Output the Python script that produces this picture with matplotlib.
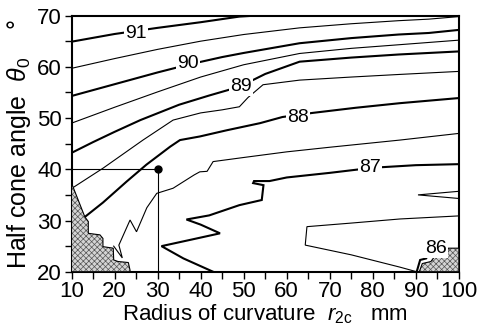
import numpy as np
import matplotlib.pyplot as plt
from matplotlib.patches import Polygon
from matplotlib.ticker import MultipleLocator

plt.rcParams['font.family'] = ['Liberation Sans', 'DejaVu Sans']
plt.rcParams['mathtext.fontset'] = 'custom'
plt.rcParams['mathtext.rm'] = 'Liberation Sans'
plt.rcParams['mathtext.it'] = 'Liberation Sans:italic'
plt.rcParams['hatch.linewidth'] = 0.5

# contour lines: radius r2c (mm) vs half cone angle (deg)
c91_x = [10, 20, 30, 40, 49, 53, 60]
c91_y = [64.9, 66.4, 67.6, 68.7, 69.8, 70.0, 70.0]

c905_x = [10, 20, 30, 40, 50, 63, 75, 86, 93, 100]
c905_y = [59.7, 61.6, 63.4, 65.0, 66.3, 67.6, 68.4, 69.0, 69.3, 69.8]

c90_x = [10, 20, 30, 37, 45, 50, 63, 75, 86, 93, 100]
c90_y = [54.3, 56.6, 58.9, 60.4, 61.9, 62.7, 64.6, 65.6, 66.3, 66.6, 67.2]

c895_x = [10, 20, 30, 40, 50, 63, 75, 86, 100]
c895_y = [49.0, 52.1, 55.1, 58.0, 60.4, 62.6, 63.6, 64.3, 65.2]

c89_x = [10, 15, 20, 26, 35, 42, 49, 55, 63, 75, 86, 100]
c89_y = [43.2, 45.3, 47.3, 49.6, 52.6, 54.4, 56.1, 58.6, 61.0, 61.8, 62.4, 63.0]

c885_x = [10.3, 17.3, 26.6, 33.6, 40, 45, 49, 51, 54.5, 63, 75, 86, 100]
c885_y = [36.4, 40.2, 45.7, 49.6, 51.0, 51.6, 52.2, 54.0, 56.5, 57.4, 58.0, 58.5, 59.1]

c88_x = [13.1, 17.3, 22.8, 27.4, 32.9, 35.2, 39.8, 46, 53.8, 59, 66, 76, 86.3, 100]
c88_y = [30.7, 33.5, 37.6, 40.9, 44.4, 45.7, 46.4, 47.6, 49.0, 50.2, 51.0, 52.0, 52.9, 53.9]

c875_x = [19.8, 21.8, 21.0, 23.6, 25.1, 27.5, 29.8, 33.6, 38.5, 39.8, 41.5, 42.9, 50, 60, 70, 86.3, 100]
c875_y = [25.0, 22.7, 25.2, 30.1, 27.8, 32.5, 35.3, 36.3, 38.9, 39.5, 39.6, 41.5, 42.3, 43.4, 44.3, 45.7, 47.0]

c87_x = [42.9, 36, 30.9, 38, 44.5, 40, 36.7, 42, 49, 54.2, 54.6, 52.2, 52.4, 56, 60, 70, 80, 90, 100]
c87_y = [20.0, 22.6, 25.0, 26.3, 27.5, 29.2, 30.2, 31.0, 33.0, 34.0, 36.9, 37.3, 37.7, 37.7, 38.4, 39.3, 40.3, 40.8, 41.0]

c865_x = [100, 86.3, 75, 64.7, 64.3, 75, 86.3, 90.2]
c865_y = [30.9, 30.3, 29.5, 28.8, 25.2, 23.3, 20.9, 20.0]

nose_x = [100, 90.5, 100]
nose_y = [35.7, 35.0, 34.3]

c86_x = [90.2, 91.0, 92.4, 92.8, 93.6]
c86_y = [20.0, 22.3, 22.6, 23.3, 23.3]

# shaded (infeasible) regions
shade_left_x = [10, 10, 10.8, 13.1, 13.9, 13.9, 16.6, 17.3, 17.3, 19.7, 19.8, 20.8, 23.2, 23.6, 23.6]
shade_left_y = [20, 37.3, 35.6, 30.7, 29.8, 27.5, 27.2, 26.5, 24.9, 24.6, 22.3, 22.0, 21.8, 20.3, 20]
shade_right_x = [90.8, 91.5, 93.5, 94.3, 97.3, 97.5, 100, 100]
shade_right_y = [20, 21.6, 22.0, 22.9, 23.2, 24.6, 24.6, 20]

# design point
design_r = 30
design_theta = 40

lines = [(91, c91_x, c91_y), (90.5, c905_x, c905_y), (90, c90_x, c90_y),
         (89.5, c895_x, c895_y), (89, c89_x, c89_y), (88.5, c885_x, c885_y),
         (88, c88_x, c88_y), (87.5, c875_x, c875_y), (87, c87_x, c87_y),
         (86.5, c865_x, c865_y), (87.5, nose_x, nose_y), (86, c86_x, c86_y)]

label_pos = {91: (25.0, 66.5), 90: (37.1, 60.6), 89: (49.4, 56.2),
             88: (62.7, 50.2), 87: (79.4, 40.3), 86: (94.7, 24.5)}

fig = plt.figure(figsize=(4.8, 3.31), dpi=100)
ax = fig.add_axes([0.149, 0.179, 0.807, 0.774])

for lev, xs, ys in lines:
    lw = 1.5 if lev == int(lev) else 0.8
    ax.plot(xs, ys, color='black', lw=lw, solid_joinstyle='miter', zorder=2)

for xs, ys in [(shade_left_x, shade_left_y), (shade_right_x, shade_right_y)]:
    ax.add_patch(Polygon(np.column_stack([xs, ys]), closed=True, facecolor='#d4d4d4',
                         edgecolor='#555555', hatch='xxxxxx', lw=0, zorder=3))
    ax.add_patch(Polygon(np.column_stack([xs, ys]), closed=True, fill=False,
                         edgecolor='black', lw=0.8, zorder=3))

for lev, (lx, ly) in label_pos.items():
    ax.text(lx, ly, str(lev), fontsize=14, ha='center', va='center', zorder=4,
            bbox=dict(boxstyle='square,pad=0.05', fc='white', ec='none'))

ax.plot([10, design_r], [design_theta, design_theta], color='black', lw=0.8, zorder=2)
ax.plot([design_r, design_r], [20, design_theta], color='black', lw=0.8, zorder=2)
ax.plot(design_r, design_theta, 'o', color='black', ms=5, zorder=5)

ax.set_xlim(10, 100)
ax.set_ylim(20, 70)
ax.xaxis.set_major_locator(MultipleLocator(10))
ax.xaxis.set_minor_locator(MultipleLocator(5))
ax.yaxis.set_major_locator(MultipleLocator(10))
ax.yaxis.set_minor_locator(MultipleLocator(5))
ax.tick_params(which='both', direction='out', length=5, width=1, labelsize=16, pad=2)
for sp in ax.spines.values():
    sp.set_linewidth(1.5)

ax.set_xlabel('Radius of curvature  $\\mathit{r}_{\\mathrm{2c}}$   mm', fontsize=16, labelpad=0)
ax.set_ylabel('Half cone angle  $\\theta_0$    °', fontsize=18, labelpad=3)

fig.savefig('out.png', dpi=100)
